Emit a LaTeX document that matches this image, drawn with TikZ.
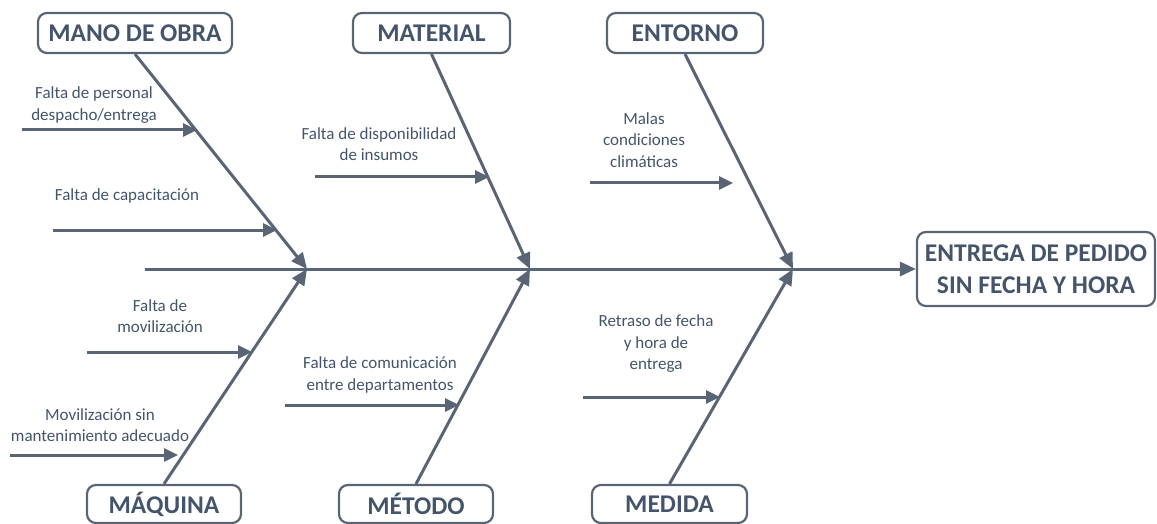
\documentclass[tikz,border=0pt]{standalone}
\usepackage{fontspec}
\setmainfont{Carlito}
\usetikzlibrary{arrows.meta}
\definecolor{linec}{RGB}{89,101,117}
\definecolor{textc}{RGB}{68,84,106}
\begin{document}
\begin{tikzpicture}[x=1pt,y=-1pt,
  catbox/.style={draw=linec, line width=2.2pt, rounded corners=9pt, text=textc,
    font=\fontsize{25.5}{30}\selectfont\bfseries, inner sep=0pt, minimum height=40pt},
  bone/.style={draw=linec, line width=3pt, -{Triangle[length=16pt,width=14pt]}},
  subarrow/.style={draw=linec, line width=3pt, -{Triangle[length=14pt,width=13pt]}},
  lbl/.style={text=textc, font=\fontsize{17}{21.5}\selectfont, align=center, inner sep=0pt}]
\useasboundingbox (0,0) rectangle (1157,524);

% category boxes
\node[catbox, minimum width=194pt] (mano) at (135,33) {MANO DE OBRA};
\node[catbox, minimum width=157pt] (material) at (431.5,33) {MATERIAL};
\node[catbox, minimum width=156pt] (entorno) at (685,33) {ENTORNO};
\node[catbox, minimum width=154pt, minimum height=38pt] (maquina) at (164,504) {MÁQUINA};
\node[catbox, minimum width=154pt, minimum height=38pt] (metodo) at (416,504) {MÉTODO};
\node[catbox, minimum width=155pt, minimum height=38pt] (medida) at (669.5,504) {MEDIDA};
\node[catbox, minimum width=238pt, minimum height=74pt, align=center,
  font=\fontsize{25.5}{32}\selectfont\bfseries] (efecto) at (1036,269) {ENTREGA DE PEDIDO\\SIN FECHA Y HORA};

% spine
\coordinate (s0) at (145,269);
\coordinate (j1) at (307,269);
\coordinate (j2) at (530,269);
\coordinate (j3) at (793,269);
\draw[bone] (s0) -- (efecto.west);

% bones
\draw[bone] (mano.south) -- (j1);
\draw[bone] (maquina.north) -- (j1);
\draw[bone] (material.south) -- (j2);
\draw[bone] (metodo.north) -- (j2);
\draw[bone] (entorno.south) -- (j3);
\draw[bone] (medida.north) -- (j3);

% sub-causes
\coordinate (a1s) at (22,130);  \coordinate (a1e) at (197,130);
\coordinate (a2s) at (53,230);  \coordinate (a2e) at (277,230);
\coordinate (a3s) at (87,352);  \coordinate (a3e) at (252,352);
\coordinate (a4s) at (10,455);  \coordinate (a4e) at (178,455);
\coordinate (a5s) at (315,177); \coordinate (a5e) at (489,177);
\coordinate (a6s) at (590,183); \coordinate (a6e) at (733,183);
\coordinate (a7s) at (285,405); \coordinate (a7e) at (459,405);
\coordinate (a8s) at (583,397); \coordinate (a8e) at (720,397);
\foreach \i in {1,...,8} {\draw[subarrow] (a\i s) -- (a\i e);}

\node[lbl] (t1) at (94,105) {Falta de personal\\despacho/entrega};
\node[lbl] (t2) at (127,196) {Falta de capacitación};
\node[lbl] (t3) at (160,316) {Falta de\\movilización};
\node[lbl] (t4) at (100,425) {Movilización sin\\mantenimiento adecuado};
\node[lbl] (t5) at (379,144) {Falta de disponibilidad\\de insumos};
\node[lbl] (t6) at (644,140) {Malas\\condiciones\\climáticas};
\node[lbl] (t7) at (380,375) {Falta de comunicación\\entre departamentos};
\node[lbl] (t8) at (656,344) {Retraso de fecha\\y hora de\\entrega};
\end{tikzpicture}
\end{document}
